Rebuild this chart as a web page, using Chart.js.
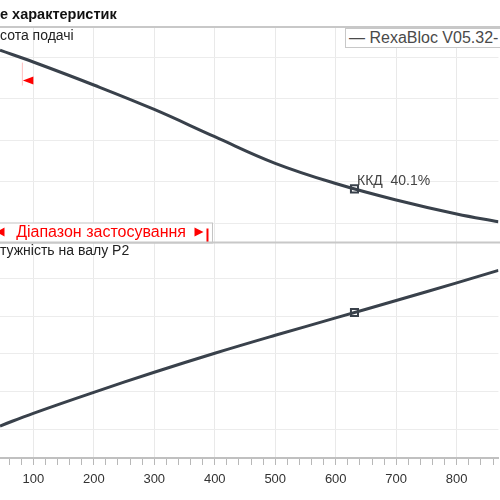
<!DOCTYPE html>
<html>
<head>
<meta charset="utf-8">
<script src="https://cdn.jsdelivr.net/npm/chart.js@4.4.0/dist/chart.umd.min.js"></script>
<style>
  html, body { margin: 0; padding: 0; background: #fff; }
  #wrap { position: relative; width: 500px; height: 500px; overflow: hidden; font-family: "Liberation Sans", Arial, sans-serif; }
  #chart { position: absolute; left: 0; top: 0; }
  .lbl { position: absolute; white-space: nowrap; line-height: 16px; }
  #title { left: 0; top: 6px; font-size: 14.5px; font-weight: bold; color: #111; }
  #hLabel { left: 0; top: 27px; font-size: 14px; color: #222; }
  #pLabel { left: 0; top: 242px; font-size: 14px; color: #222; }
  #legend { left: 345px; top: 28px; width: 200px; height: 18px; line-height: 18px; border: 1px solid #c8c8c8; background: #fff; font-size: 16px; color: #4a4a4a; padding-left: 3px; }
</style>
</head>
<body>
<div id="wrap">
  <canvas id="chart" width="500" height="500"></canvas>
  <div class="lbl" id="title">е характеристик</div>
  <div class="lbl" id="hLabel">сота подачі</div>
  <div class="lbl" id="pLabel">тужність на валу P2</div>
  <div class="lbl" id="legend">— RexaBloc V05.32-</div>
</div>
<script>
// подача (м³/год) і значення кривих
const flow  = [45, 100, 200, 300, 400, 500, 600, 700, 800, 869];
const head  = [517, 488.7, 433.3, 374.3, 308.7, 244.6, 195.9, 156.2, 122.4, 103.9]; // висота подачі
const power = [0.544, 0.712, 0.990, 1.255, 1.507, 1.745, 1.975, 2.205, 2.440, 2.605]; // P2

// робоча точка
const dutyQ = 631;
const dutyH = 183;
const dutyP = 2.046;
const effLabel = "ККД  40.1%";

// діапазон застосування
const rangeStart = 82;
const rangeEnd = 388;
const rangeMarkH = 444;
const rangeText = "Діапазон застосування";

// межі осей
const xMin = 45, xMax = 869;
const hMin = 53.7, hMax = 573.1, hStep = 100;
const pMin = 0.12, pMax = 2.974, pStep = 0.5;

const lineColor = "#39414b";
const font = "'Liberation Sans', Arial, sans-serif";

const pts = (ys) => flow.map((q, i) => ({ x: q, y: ys[i] }));

// анотації: рамки панелей, діапазон, підпис ККД
const annot = {
    id: "annot",
    afterDatasetsDraw(chart) {
        const { ctx, scales: { x, y, y2 } } = chart;
        ctx.save();

        // ліва межа діапазону
        const xs = x.getPixelForValue(rangeStart);
        const ym = y.getPixelForValue(rangeMarkH);
        ctx.strokeStyle = "rgba(255,0,0,0.25)";
        ctx.lineWidth = 1;
        ctx.beginPath();
        ctx.moveTo(xs, ym - 18);
        ctx.lineTo(xs, ym + 5);
        ctx.stroke();
        ctx.fillStyle = "#ff0000";
        ctx.beginPath();
        ctx.moveTo(xs + 0.5, ym);
        ctx.lineTo(xs + 11, ym - 4);
        ctx.lineTo(xs + 11, ym + 4);
        ctx.closePath();
        ctx.fill();

        // рамка "Діапазон застосування"
        const xe = x.getPixelForValue(rangeEnd);
        const yb = y.bottom;
        ctx.fillStyle = "#fff";
        ctx.fillRect(-5, yb - 20, xe + 10, 20);
        ctx.strokeStyle = "#c4c4c4";
        ctx.lineWidth = 1;
        ctx.strokeRect(-5.5, yb - 19.5, xe + 10.5, 20);

        ctx.fillStyle = "#ff0000";
        ctx.font = "16px " + font;
        ctx.textAlign = "right";
        ctx.textBaseline = "middle";
        ctx.fillText(rangeText, xe - 21.5, yb - 10);
        // стрілки
        ctx.beginPath();
        ctx.moveTo(-4, yb - 10.5);
        ctx.lineTo(4.5, yb - 15);
        ctx.lineTo(4.5, yb - 6);
        ctx.closePath();
        ctx.fill();
        ctx.beginPath();
        ctx.moveTo(xe - 4, yb - 10.5);
        ctx.lineTo(xe - 13, yb - 15);
        ctx.lineTo(xe - 13, yb - 6);
        ctx.closePath();
        ctx.fill();
        ctx.strokeStyle = "#ff0000";
        ctx.lineWidth = 2;
        ctx.beginPath();
        ctx.moveTo(xe, yb - 14);
        ctx.lineTo(xe, yb);
        ctx.stroke();

        // лінії панелей
        ctx.strokeStyle = "#c8c8c8";
        ctx.lineWidth = 2;
        ctx.beginPath();
        ctx.moveTo(0, y.top);
        ctx.lineTo(chart.width, y.top);
        ctx.moveTo(0, y2.top);
        ctx.lineTo(chart.width, y2.top);
        ctx.stroke();

        // підпис ККД біля робочої точки
        const dx = x.getPixelForValue(dutyQ);
        const dy = y.getPixelForValue(dutyH);
        ctx.fillStyle = "#444";
        ctx.font = "14px " + font;
        ctx.textAlign = "left";
        ctx.textBaseline = "alphabetic";
        ctx.fillText(effLabel, dx + 2.5, dy - 4);

        ctx.restore();
    }
};

const ctx = document.getElementById("chart").getContext("2d");

new Chart(ctx, {
    type: "line",
    data: {
        datasets: [
            {
                label: "H",
                data: pts(head),
                yAxisID: "y",
                borderColor: lineColor,
                borderWidth: 3,
                pointRadius: 0,
                tension: 0.4,
            },
            {
                label: "P2",
                data: pts(power),
                yAxisID: "y2",
                borderColor: lineColor,
                borderWidth: 3,
                pointRadius: 0,
                tension: 0.4,
            },
            {
                label: "duty H",
                data: [{ x: dutyQ, y: dutyH }],
                yAxisID: "y",
                showLine: false,
                pointStyle: "rect",
                pointRadius: 5,
                pointBackgroundColor: "#fff",
                pointBorderColor: lineColor,
                pointBorderWidth: 2,
            },
            {
                label: "duty P2",
                data: [{ x: dutyQ, y: dutyP }],
                yAxisID: "y2",
                showLine: false,
                pointStyle: "rect",
                pointRadius: 5,
                pointBackgroundColor: "#fff",
                pointBorderColor: lineColor,
                pointBorderWidth: 2,
            },
        ],
    },
    options: {
        responsive: false,
        animation: false,
        layout: { padding: { top: 27, bottom: 5.4, left: 0, right: 0 }, autoPadding: false },
        plugins: { legend: { display: false }, tooltip: { enabled: false } },
        scales: {
            x: {
                type: "linear",
                min: xMin,
                max: xMax,
                ticks: {
                    stepSize: 20,
                    includeBounds: false,
                    autoSkip: false,
                    maxRotation: 0,
                    padding: 7,
                    color: "#333",
                    font: { size: 13, family: font },
                    callback: (v) => (v % 100 === 0 ? v : ""),
                },
                grid: {
                    color: (c) => (c.tick && c.tick.value % 100 === 0 ? "#e9e9e9" : "rgba(0,0,0,0)"),
                    tickColor: "#b8b8b8",
                    tickLength: 7,
                },
                border: { color: "#c0c0c0", width: 2 },
            },
            // нижня панель іде першою: Chart.js кладе перший у стеку донизу
            y2: {
                type: "linear",
                position: "left",
                stack: "panels",
                stackWeight: 1,
                min: pMin,
                max: pMax,
                ticks: { display: false, stepSize: pStep, includeBounds: false, autoSkip: false },
                grid: { drawTicks: false, color: "#ececec" },
                border: { display: false },
            },
            y: {
                type: "linear",
                position: "left",
                stack: "panels",
                stackWeight: 1,
                min: hMin,
                max: hMax,
                ticks: { display: false, stepSize: hStep, includeBounds: false, autoSkip: false },
                grid: { drawTicks: false, color: "#ececec" },
                border: { display: false },
            },
        },
    },
    plugins: [annot],
});
</script>
</body>
</html>
